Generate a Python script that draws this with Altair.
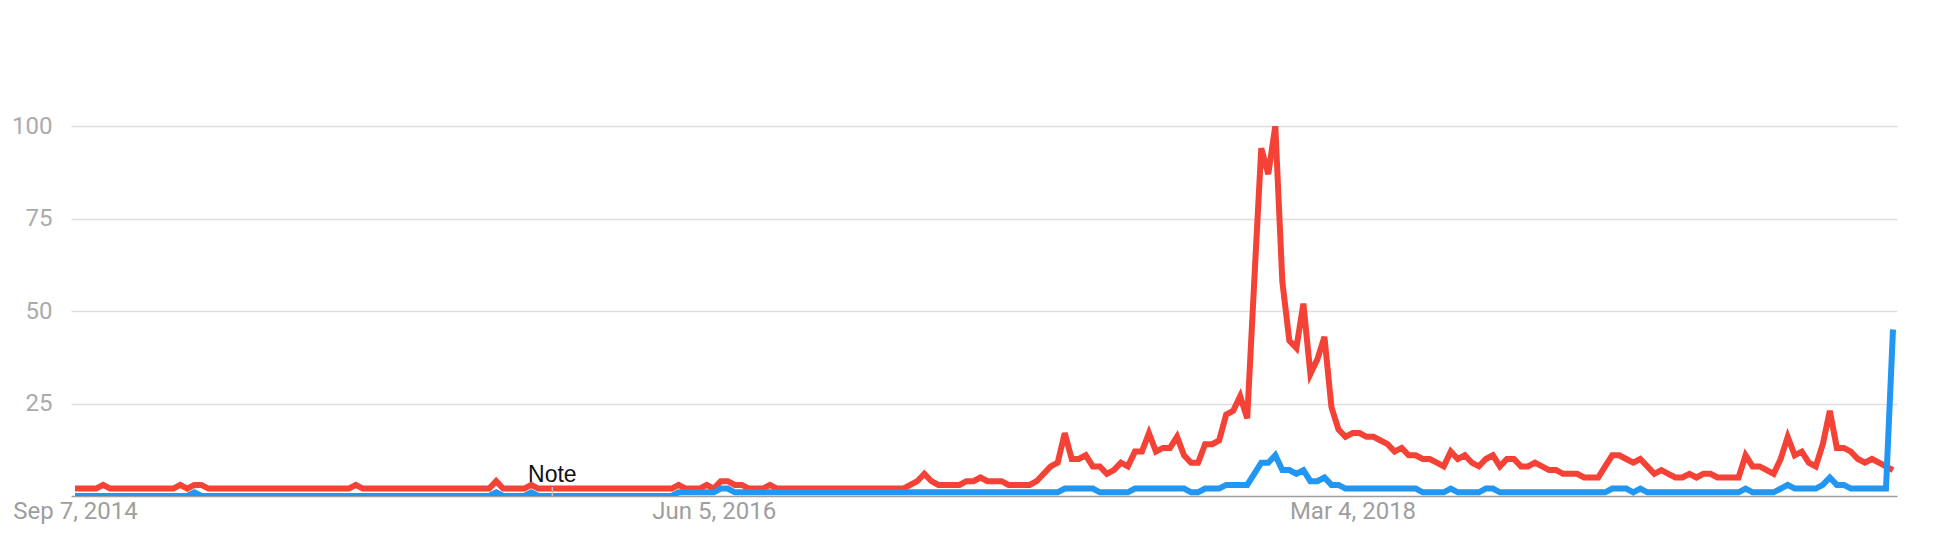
import altair as alt
import pandas as pd

# ---- data -------------------------------------------------------------
start_date = "2014-09-07"          # first weekly point
n_weeks = 260

red_values = [
    2, 2, 2, 2, 3, 2, 2, 2, 2, 2, 2, 2, 2, 2, 2, 3, 2, 3, 3, 2,   # 0-19
    2, 2, 2, 2, 2, 2, 2, 2, 2, 2, 2, 2, 2, 2, 2, 2, 2, 2, 2, 2,   # 20-39
    3, 2, 2, 2, 2, 2, 2, 2, 2, 2, 2, 2, 2, 2, 2, 2, 2, 2, 2, 2,   # 40-59
    4, 2, 2, 2, 2, 3, 2, 2, 2, 2, 2, 2, 2, 2, 2, 2, 2, 2, 2, 2,   # 60-79
    2, 2, 2, 2, 2, 2, 3, 2, 2, 2, 3, 2, 4, 4, 3, 3, 2, 2, 2, 3,   # 80-99
    2, 2, 2, 2, 2, 2, 2, 2, 2, 2, 2, 2, 2, 2, 2, 2, 2, 2, 2, 3,   # 100-119
    4, 6, 4, 3, 3, 3, 3, 4, 4, 5, 4, 4, 4, 3, 3, 3, 3, 4, 6, 8,   # 120-139
    9, 17, 10, 10, 11, 8, 8, 6, 7, 9, 8, 12, 12, 17, 12, 13, 13, 16, 11, 9,  # 140-159
    9, 14, 14, 15, 22, 23, 27, 21, 58, 94, 87, 100, 58, 42, 40, 52, 33, 37, 43, 24,  # 160-179
    18, 16, 17, 17, 16, 16, 15, 14, 12, 13, 11, 11, 10, 10, 9, 8, 12, 10, 11, 9,  # 180-199
    8, 10, 11, 8, 10, 10, 8, 8, 9, 8, 7, 7, 6, 6, 6, 5, 5, 5, 8, 11,   # 200-219
    11, 10, 9, 10, 8, 6, 7, 6, 5, 5, 6, 5, 6, 6, 5, 5, 5, 5, 11, 8,    # 220-239
    8, 7, 6, 10, 16, 11, 12, 9, 8, 14, 23, 13, 13, 12, 10, 9, 10, 9, 8, 7,  # 240-259
]

blue_values = [
    0, 0, 0, 0, 0, 0, 0, 0, 0, 0, 0, 0, 0, 0, 0, 0, 0, 1, 0, 0,   # 0-19
    0, 0, 0, 0, 0, 0, 0, 0, 0, 0, 0, 0, 0, 0, 0, 0, 0, 0, 0, 0,   # 20-39
    0, 0, 0, 0, 0, 0, 0, 0, 0, 0, 0, 0, 0, 0, 0, 0, 0, 0, 0, 0,   # 40-59
    1, 0, 0, 0, 0, 1, 0, 0, 0, 0, 0, 0, 0, 0, 0, 0, 0, 0, 0, 0,   # 60-79
    0, 0, 0, 0, 0, 0, 1, 1, 1, 1, 1, 1, 2, 2, 1, 1, 1, 1, 1, 1,   # 80-99
    1, 1, 1, 1, 1, 1, 1, 1, 1, 1, 1, 1, 1, 1, 1, 1, 1, 1, 1, 1,   # 100-119
    1, 1, 1, 1, 1, 1, 1, 1, 1, 1, 1, 1, 1, 1, 1, 1, 1, 1, 1, 1,   # 120-139
    1, 2, 2, 2, 2, 2, 1, 1, 1, 1, 1, 2, 2, 2, 2, 2, 2, 2, 2, 1,   # 140-159
    1, 2, 2, 2, 3, 3, 3, 3, 6, 9, 9, 11, 7, 7, 6, 7, 4, 4, 5, 3,  # 160-179
    3, 2, 2, 2, 2, 2, 2, 2, 2, 2, 2, 2, 1, 1, 1, 1, 2, 1, 1, 1,   # 180-199
    1, 2, 2, 1, 1, 1, 1, 1, 1, 1, 1, 1, 1, 1, 1, 1, 1, 1, 1, 2,   # 200-219
    2, 2, 1, 2, 1, 1, 1, 1, 1, 1, 1, 1, 1, 1, 1, 1, 1, 1, 2, 1,   # 220-239
    1, 1, 1, 2, 3, 2, 2, 2, 2, 3, 5, 3, 3, 2, 2, 2, 2, 2, 2, 45,  # 240-259
]

series_names = ["Blue term", "Red term"]
series_colors = ["#2196f3", "#f44336"]

x_tick_dates = ["2014-09-07", "2016-06-05", "2018-03-04"]
y_tick_values = [25, 50, 75, 100]

note_dates = ["2015-12-27"]
note_labels = ["Note"]

# ---- tables -----------------------------------------------------------
dates = pd.date_range(start_date, periods=n_weeks, freq="7D").strftime("%Y-%m-%d")
df = pd.concat([
    pd.DataFrame({"date": dates, "value": blue_values, "series": series_names[0]}),
    pd.DataFrame({"date": dates, "value": red_values, "series": series_names[1]}),
])
notes = pd.DataFrame({"date": note_dates, "label": note_labels})


def dt(s):
    y, m, d = (int(p) for p in s.split("-"))
    return alt.DateTime(year=y, month=m, date=d, utc=True)


x_scale = alt.Scale(type="utc", domain=[dt("2014-09-03"), dt("2019-08-29")])
y_scale = alt.Scale(domain=[0, 100], nice=False, zero=True)

x_axis = alt.Axis(
    values=[dt(s) for s in x_tick_dates],
    labelExpr="utcFormat(datum.value, '%b %-d, %Y')",
    title=None, grid=False, ticks=False,
    domain=True, domainColor="#9e9e9e", domainWidth=1.5,
    labelFont="Roboto", labelFontSize=24, labelColor="#9e9e9e",
    labelPadding=3, labelFlush=False, labelOverlap=False,
    labelAlign="center", labelBaseline="top",
)
y_axis = alt.Axis(
    values=y_tick_values, title=None, domain=False, ticks=False,
    grid=True, gridColor="#dedede", gridWidth=1.3,
    labelFont="Roboto", labelFontSize=24, labelColor="#ababab",
    labelPadding=19,
)

color = alt.Color("series:N", scale=alt.Scale(domain=series_names, range=series_colors), legend=None)

base = alt.Chart(df)
red_line = base.transform_filter(alt.datum.series == series_names[1]).mark_line(
    strokeWidth=6, clip=True, strokeJoin="miter"
).encode(
    x=alt.X("date:T", scale=x_scale, axis=x_axis),
    y=alt.Y("value:Q", scale=y_scale, axis=y_axis),
    color=color,
)
blue_line = base.transform_filter(alt.datum.series == series_names[0]).mark_line(
    strokeWidth=6, clip=True, strokeJoin="miter"
).encode(
    x=alt.X("date:T", scale=x_scale),
    y=alt.Y("value:Q", scale=y_scale),
    color=color,
)

note_tick = alt.Chart(notes).mark_rule(color="#bdbdbd", strokeWidth=1.5).encode(
    x=alt.X("date:T", scale=x_scale),
    y=alt.value(361),
    y2=alt.value(370),
)
note_text = alt.Chart(notes).mark_text(
    font="Liberation Sans", fontSize=23, color="#111111",
    align="center", baseline="alphabetic",
).encode(
    x=alt.X("date:T", scale=x_scale),
    y=alt.value(356),
    text="label:N",
)

chart = alt.layer(red_line, blue_line, note_tick, note_text).properties(
    width=1826, height=370,
    autosize=alt.AutoSizeParams(type="none"),
    padding={"left": 63, "top": 118, "right": 30, "bottom": 36},
    background="white",
).configure_view(stroke=None)

chart.save("out.html", embed_options={"renderer": "svg", "actions": False})
